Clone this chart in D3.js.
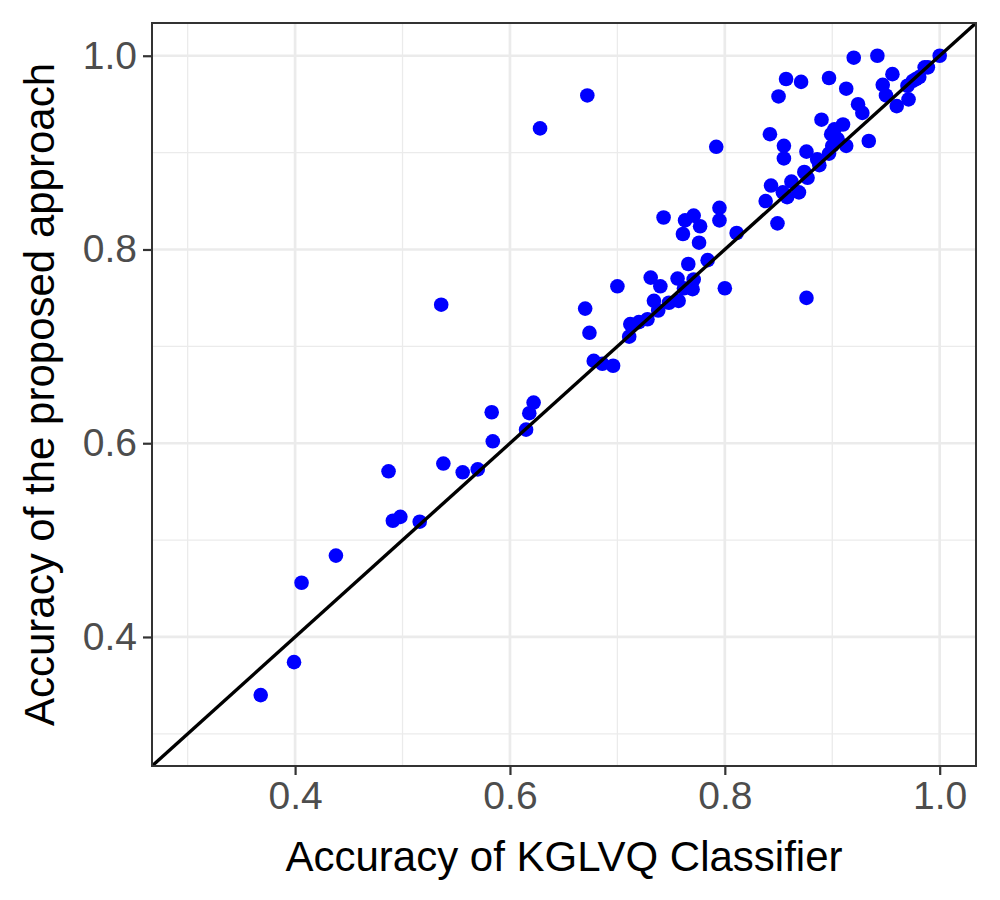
<!DOCTYPE html>
<html>
<head>
<meta charset="utf-8">
<script src="https://cdn.jsdelivr.net/npm/d3@7"></script>
<style>
  body { margin: 0; background: #fff; }
  svg { display: block; font-family: "Liberation Sans", Arial, sans-serif; }
</style>
</head>
<body>
<svg id="chart" width="1000" height="900"></svg>
<script>
// KGLVQ accuracy (x) vs proposed approach accuracy (y)
const kglvqAcc = [
  0.368, 0.399, 0.406, 0.438, 0.487, 0.491, 0.498, 0.516, 0.538, 0.556,
  0.570, 0.583, 0.584, 0.615, 0.618, 0.622, 0.628, 0.536, 0.672, 0.792,
  0.795, 0.857, 0.871, 0.850, 0.897, 0.920, 0.942, 0.913, 0.956, 0.947,
  0.950, 0.924, 0.928, 0.960, 0.971, 1.000, 0.986, 0.981, 0.975, 0.970,
  0.890, 0.842, 0.855, 0.855, 0.876, 0.934, 0.902, 0.910, 0.899, 0.905,
  0.900, 0.913, 0.897, 0.886, 0.888, 0.874, 0.877, 0.862, 0.843, 0.854,
  0.858, 0.869, 0.838, 0.743, 0.763, 0.771, 0.777, 0.761, 0.776, 0.795,
  0.811, 0.849, 0.784, 0.766, 0.731, 0.740, 0.756, 0.771, 0.770, 0.762,
  0.700, 0.734, 0.748, 0.757, 0.738, 0.670, 0.674, 0.712, 0.720, 0.728,
  0.711, 0.678, 0.686, 0.696, 0.800, 0.876, 0.989, 0.978
];
const proposedAcc = [
  0.340, 0.374, 0.456, 0.484, 0.571, 0.520, 0.524, 0.519, 0.579, 0.570,
  0.573, 0.632, 0.602, 0.614, 0.631, 0.642, 0.925, 0.743, 0.959, 0.906,
  0.843, 0.976, 0.973, 0.958, 0.977, 0.998, 1.000, 0.966, 0.981, 0.970,
  0.959, 0.950, 0.941, 0.948, 0.955, 1.000, 0.988, 0.978, 0.974, 0.969,
  0.934, 0.919, 0.907, 0.894, 0.901, 0.912, 0.924, 0.929, 0.919, 0.914,
  0.907, 0.907, 0.899, 0.893, 0.887, 0.880, 0.874, 0.870, 0.866, 0.859,
  0.854, 0.859, 0.850, 0.833, 0.830, 0.835, 0.824, 0.816, 0.807, 0.830,
  0.817, 0.827, 0.789, 0.785, 0.771, 0.762, 0.770, 0.769, 0.759, 0.760,
  0.762, 0.747, 0.745, 0.747, 0.737, 0.739, 0.714, 0.723, 0.725, 0.728,
  0.710, 0.685, 0.682, 0.680, 0.760, 0.750, 0.988, 0.976
];
const majorTicks = [0.4, 0.6, 0.8, 1.0];
const minorTicks = [0.3, 0.5, 0.7, 0.9];
const axisDomain = [0.2668, 1.0338];

const svg = d3.select('#chart');
const margin = { top: 23, right: 24, bottom: 134, left: 152 };
const width = 1000 - margin.left - margin.right;
const height = 900 - margin.top - margin.bottom;

const x = d3.scaleLinear().domain(axisDomain).range([0, width]);
const y = d3.scaleLinear().domain(axisDomain).range([height, 0]);

const g = svg.append('g').attr('transform', `translate(${margin.left},${margin.top})`);

g.append('clipPath').attr('id', 'panel-clip')
  .append('rect').attr('width', width).attr('height', height);

// grid lines
g.selectAll('.minor-x').data(minorTicks).enter().append('line')
  .attr('x1', d => x(d)).attr('x2', d => x(d)).attr('y1', 0).attr('y2', height)
  .attr('stroke', '#ebebeb').attr('stroke-width', 1.3);
g.selectAll('.minor-y').data(minorTicks).enter().append('line')
  .attr('y1', d => y(d)).attr('y2', d => y(d)).attr('x1', 0).attr('x2', width)
  .attr('stroke', '#ebebeb').attr('stroke-width', 1.3);
g.selectAll('.major-x').data(majorTicks).enter().append('line')
  .attr('x1', d => x(d)).attr('x2', d => x(d)).attr('y1', 0).attr('y2', height)
  .attr('stroke', '#ebebeb').attr('stroke-width', 2.7);
g.selectAll('.major-y').data(majorTicks).enter().append('line')
  .attr('y1', d => y(d)).attr('y2', d => y(d)).attr('x1', 0).attr('x2', width)
  .attr('stroke', '#ebebeb').attr('stroke-width', 2.7);

// points
const points = kglvqAcc.map((v, i) => ({ x: v, y: proposedAcc[i] }));
g.append('g').attr('clip-path', 'url(#panel-clip)')
  .selectAll('circle').data(points).enter().append('circle')
  .attr('cx', d => x(d.x)).attr('cy', d => y(d.y)).attr('r', 7.3)
  .attr('fill', '#0000ff');

// y = x reference line
g.append('line').attr('clip-path', 'url(#panel-clip)')
  .attr('x1', x(axisDomain[0])).attr('y1', y(axisDomain[0]))
  .attr('x2', x(axisDomain[1])).attr('y2', y(axisDomain[1]))
  .attr('stroke', '#000').attr('stroke-width', 3.4);

// panel border
g.append('rect').attr('width', width).attr('height', height)
  .attr('fill', 'none').attr('stroke', '#333333').attr('stroke-width', 2);

// axes
const xAxis = g.append('g').attr('transform', `translate(0,${height})`)
  .call(d3.axisBottom(x).tickValues(majorTicks).tickFormat(d3.format('.1f')).tickSize(9).tickPadding(6));
const yAxis = g.append('g')
  .call(d3.axisLeft(y).tickValues(majorTicks).tickFormat(d3.format('.1f')).tickSize(9).tickPadding(6));

[xAxis, yAxis].forEach(a => {
  a.select('.domain').remove();
  a.selectAll('.tick line').attr('stroke', '#333333').attr('stroke-width', 2.2);
  a.selectAll('.tick text').attr('fill', '#4d4d4d')
    .style('font-size', '39px').style('font-family', '"Liberation Sans", Arial, sans-serif');
});

// axis titles
svg.append('text')
  .attr('x', margin.left + width / 2).attr('y', 871)
  .attr('text-anchor', 'middle').attr('fill', '#000')
  .style('font-size', '42px')
  .text('Accuracy of KGLVQ Classifier');

svg.append('text')
  .attr('transform', `translate(54,${margin.top + height / 2}) rotate(-90)`)
  .attr('text-anchor', 'middle').attr('fill', '#000')
  .style('font-size', '42px')
  .text('Accuracy of the proposed approach');
</script>
</body>
</html>
